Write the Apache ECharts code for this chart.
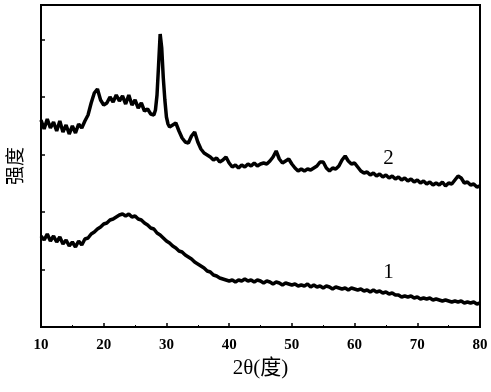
<!DOCTYPE html>
<html>
<head>
<meta charset="utf-8">
<script src="https://cdn.jsdelivr.net/npm/echarts@6/dist/echarts.min.js"></script>
<style>
  html, body { margin: 0; padding: 0; background: #fff; }
  #main { width: 491px; height: 392px; }
</style>
</head>
<body>
<div id="main"></div>
<script>
// 2θ 取样点（度）
var twoTheta = [
  10, 10.5, 11, 11.5, 12, 12.5, 13, 13.5, 14, 14.5, 15, 15.5, 16, 16.5, 17, 17.5, 18, 18.5, 19, 19.5,
  20, 20.5, 21, 21.5, 22, 22.5, 23, 23.5, 24, 24.5, 25, 25.5, 26, 26.5, 27, 27.5, 28, 28.25, 28.5, 28.75,
  29, 29.25, 29.5, 29.75, 30, 30.25, 30.5, 31, 31.5, 32, 32.5, 33, 33.5, 34, 34.5, 35, 35.5, 36, 36.5, 37,
  37.5, 38, 38.5, 39, 39.5, 40, 40.5, 41, 41.5, 42, 42.5, 43, 43.5, 44, 44.5, 45, 45.5, 46, 46.5, 47,
  47.5, 48, 48.5, 49, 49.5, 50, 50.5, 51, 51.5, 52, 52.5, 53, 53.5, 54, 54.5, 55, 55.5, 56, 56.5, 57,
  57.5, 58, 58.5, 59, 59.5, 60, 60.5, 61, 61.5, 62, 62.5, 63, 63.5, 64, 64.5, 65, 65.5, 66, 66.5, 67,
  67.5, 68, 68.5, 69, 69.5, 70, 70.5, 71, 71.5, 72, 72.5, 73, 73.5, 74, 74.5, 75, 75.5, 76, 76.5, 77,
  77.5, 78, 78.5, 79, 79.5, 80
];

// 样品1 强度（任意单位）
var curve1 = [
  91, 87, 93, 86, 91, 85, 90, 83, 87, 81, 85, 80, 86, 82, 88, 89, 93, 95, 98, 100,
  103, 104, 107, 108, 110, 112, 113, 111, 113, 110, 111, 108, 107, 104, 102, 99, 98, 96, 94, 93,
  92, 91, 89, 88, 86, 85, 84, 81, 79, 76, 75, 72, 70, 68, 65, 63, 61, 59, 56, 55,
  52, 51, 49, 48, 47, 46, 47, 45, 47, 46, 48, 46, 47, 45, 47, 46, 44, 46, 45, 43,
  45, 44, 42, 44, 43, 42, 43, 41, 42, 41, 43, 40, 42, 40, 41, 39, 41, 40, 38, 40,
  39, 38, 39, 37, 39, 38, 37, 38, 36, 37, 35, 37, 35, 36, 34, 35, 33, 34, 32, 32,
  30, 31, 30, 31, 29, 30, 28, 29, 28, 29, 27, 28, 27, 26, 27, 26, 25, 26, 25, 26,
  24, 25, 24, 25, 23, 24
];

// 样品2 强度（任意单位）
var curve2 = [
  207, 198, 208, 199, 205, 196, 206, 195, 202, 193, 201, 194, 203, 199, 206, 212, 224, 234, 238, 227,
  222, 224, 230, 225, 232, 226, 231, 223, 232, 222, 227, 219, 224, 216, 218, 213, 212, 217, 232, 262,
  293, 279, 249, 227, 210, 203, 200, 202, 204, 196, 189, 185, 184, 191, 195, 185, 178, 174, 172, 170,
  167, 169, 165, 167, 170, 164, 160, 162, 159, 162, 160, 163, 161, 164, 161, 163, 164, 163, 166, 170,
  176, 168, 164, 166, 168, 163, 159, 156, 158, 156, 158, 157, 159, 161, 165, 165, 159, 156, 159, 158,
  161, 167, 171, 166, 163, 164, 160, 156, 154, 155, 152, 154, 151, 153, 150, 152, 149, 151, 148, 150,
  147, 149, 146, 148, 145, 147, 144, 146, 143, 145, 142, 144, 142, 145, 141, 144, 143, 147, 151, 149,
  144, 145, 142, 143, 140, 141
];

var xTicks = [10, 20, 30, 40, 50, 60, 70, 80];

function pairs(xs, ys) {
  var out = [];
  for (var i = 0; i < xs.length; i++) out.push([xs[i], ys[i]]);
  return out;
}

var serif = '"Liberation Serif", "Times New Roman", "Noto Sans CJK SC", serif';

var myChart = echarts.init(document.getElementById('main'));
var option = {
  backgroundColor: '#fff',
  animation: false,
  grid: {
    left: 40, right: 11, top: 5, bottom: 65,
    show: true,
    borderColor: '#000',
    borderWidth: 2
  },
  xAxis: {
    type: 'value',
    min: 10, max: 80, interval: 10,
    name: '2θ(度)',
    nameLocation: 'middle',
    nameGap: 31,
    nameTextStyle: { fontFamily: serif, fontSize: 21, color: '#000' },
    axisLine: { show: true, lineStyle: { color: '#000', width: 2 } },
    axisTick: { show: true, inside: true, length: 4, lineStyle: { color: '#000', width: 1.5 } },
    minorTick: { show: true, splitNumber: 2, length: 2, lineStyle: { color: '#000', width: 1 } },
    axisLabel: {
      fontFamily: serif, fontSize: 15, fontWeight: 'bold', color: '#000', margin: 11,
      formatter: function (v) { return xTicks.indexOf(v) >= 0 ? String(v) : ''; }
    },
    splitLine: { show: false }
  },
  yAxis: {
    type: 'value',
    min: 0, max: 322, interval: 57.5,
    name: '强度',
    nameLocation: 'middle',
    nameGap: 14,
    nameTextStyle: { fontFamily: serif, fontSize: 19, color: '#000' },
    axisLine: { show: true, lineStyle: { color: '#000', width: 2 } },
    axisTick: { show: true, inside: true, length: 4, lineStyle: { color: '#000', width: 1.5 } },
    axisLabel: { show: false },
    splitLine: { show: false }
  },
  series: [
    {
      name: '1',
      type: 'line',
      data: pairs(twoTheta, curve1),
      symbol: 'none',
      lineStyle: { color: '#000', width: 3.5 }
    },
    {
      name: '2',
      type: 'line',
      data: pairs(twoTheta, curve2),
      symbol: 'none',
      lineStyle: { color: '#000', width: 3.5 }
    }
  ]
};
myChart.setOption(option);

// 曲线编号
var p2 = myChart.convertToPixel({ gridIndex: 0 }, [65.4, 169]);
var p1 = myChart.convertToPixel({ gridIndex: 0 }, [65.4, 55]);
myChart.setOption({
  graphic: [
    { type: 'text', x: p2[0], y: p2[1], style: { text: '2', font: '21px ' + serif, fill: '#000', align: 'center', verticalAlign: 'middle' } },
    { type: 'text', x: p1[0], y: p1[1], style: { text: '1', font: '21px ' + serif, fill: '#000', align: 'center', verticalAlign: 'middle' } }
  ]
});
</script>
</body>
</html>
